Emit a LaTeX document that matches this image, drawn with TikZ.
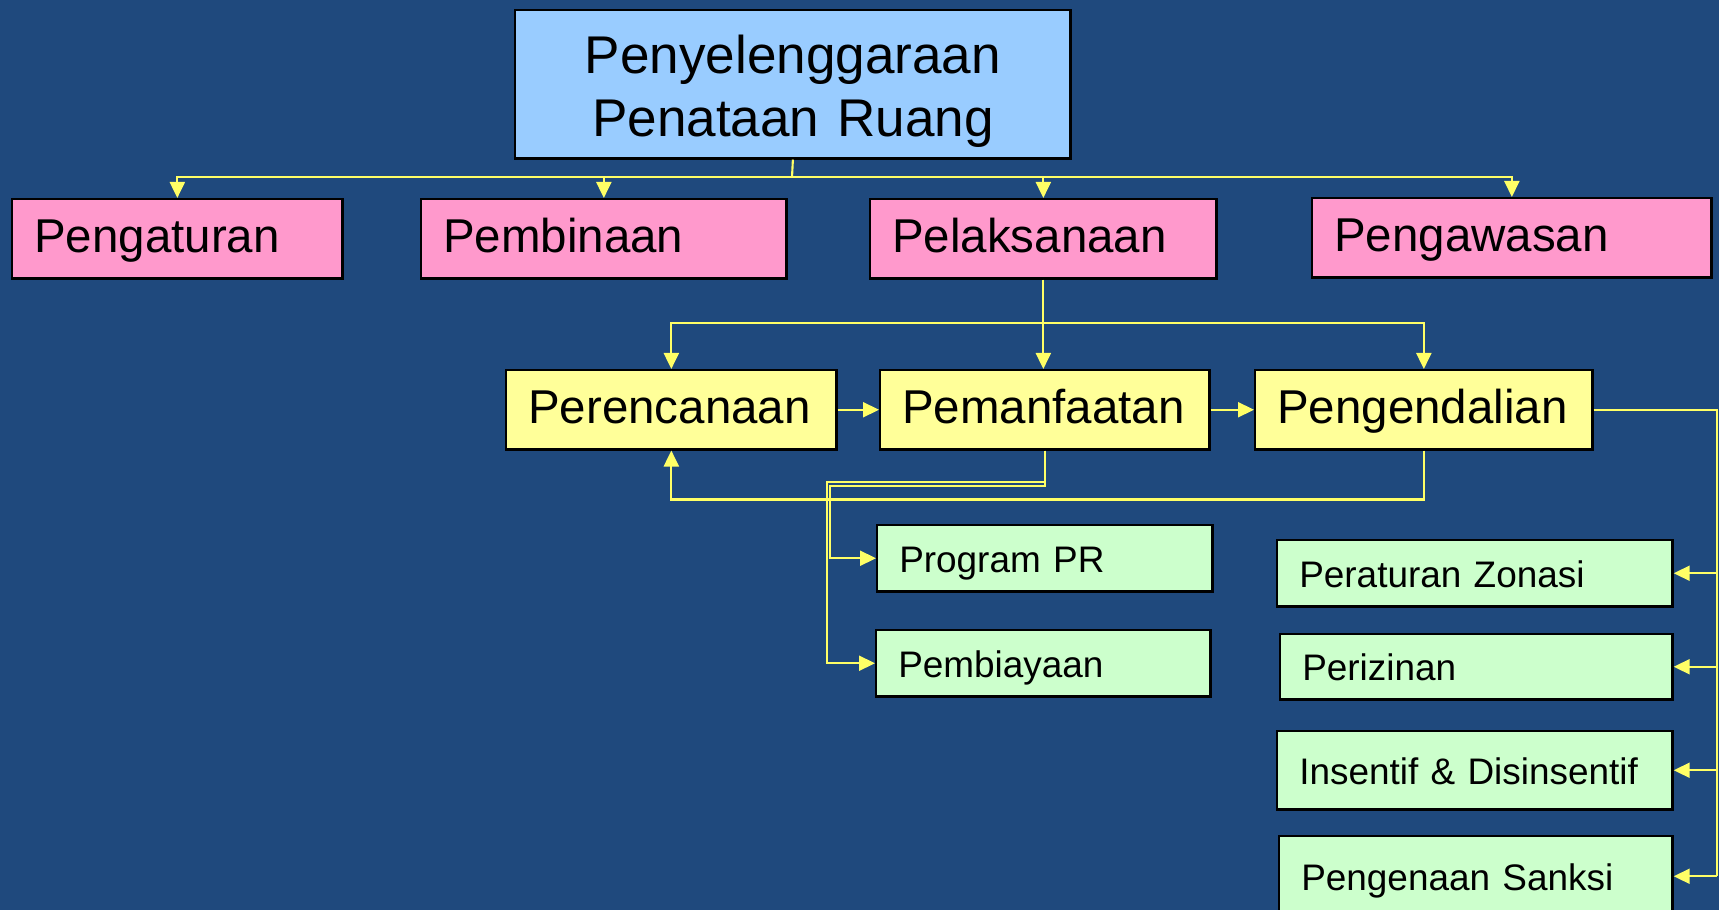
\documentclass[tikz,border=0pt]{standalone}
\usepackage{fontspec}
\setmainfont{Liberation Sans}
\usepackage{tikz}
\usetikzlibrary{arrows.meta, positioning, calc}
\definecolor{bg_blue}{RGB}{31,73,125}
\definecolor{title_fill}{RGB}{153,204,255}
\definecolor{pink_fill}{RGB}{255,153,204}
\definecolor{yellow_fill}{RGB}{255,255,153}
\definecolor{green_fill}{RGB}{204,255,204}
\definecolor{link_yellow}{RGB}{255,255,102}
\tikzset{
    base_box/.style={
        rectangle, draw=black, line width=0.7pt, inner xsep=0.22cm, inner ysep=0pt,
        anchor=north west, align=left, text=black
    },
    title_box/.style={
        base_box, fill=title_fill, align=center, text height=0.40cm, text depth=0.62cm,
        font=\fontsize{15.1}{17.9}\selectfont
    },
    pink_box/.style={
        base_box, fill=pink_fill, minimum height=0.79cm, text height=0.8em, text depth=0pt,
        font=\fontsize{13.5}{16}\selectfont
    },
    yellow_box/.style={
        base_box, fill=yellow_fill, minimum height=0.79cm, text height=0.78em, text depth=0pt,
        font=\fontsize{13.5}{16}\selectfont
    },
    green_box/.style={
        base_box, fill=green_fill, minimum height=0.66cm, text height=0.8em, text depth=0pt,
        font=\fontsize{10.5}{12.6}\selectfont
    },
    line_yellow/.style={
        line width=0.6pt, draw=link_yellow
    },
    arrow_yellow/.style={
        line width=0.6pt, draw=link_yellow, -{Triangle[length=1.6mm, width=1.5mm, fill=link_yellow]}
    }
}
\begin{document}
\begin{tikzpicture}[x=0.01cm, y=-0.01cm]
    % Latar
    \path[use as bounding box, fill=bg_blue] (0,0) rectangle (1719,910);
    \clip (0,0) rectangle (1719,910);

    % Judul
    \node[title_box, text width=5.11cm, minimum height=1.48cm] (judul) at (514,9) {Penyelenggaraan\\Penataan Ruang};

    % Tingkat kedua
    \node[pink_box, text width=2.86cm] (pengaturan) at (11,198) {Pengaturan};
    \node[pink_box, text width=3.21cm] (pembinaan) at (420,198) {Pembinaan};
    \node[pink_box, text width=3.02cm] (pelaksanaan) at (869,198) {Pelaksanaan};
    \node[pink_box, text width=3.55cm] (pengawasan) at (1311,197) {Pengawasan};

    \coordinate (split_top) at (792,177);
    \draw[line_yellow] (judul.south) -- (split_top);
    \foreach \b in {pengaturan, pembinaan, pelaksanaan, pengawasan}
        \draw[arrow_yellow] (split_top) -| (\b.north);

    % Tingkat ketiga
    \node[yellow_box, text width=2.86cm] (perencanaan) at (505,369) {Perencanaan};
    \node[yellow_box, text width=2.85cm] (pemanfaatan) at (879,369) {Pemanfaatan};
    \node[yellow_box, text width=2.93cm] (pengendalian) at (1254,369) {Pengendalian};

    \coordinate (split_mid) at (1042,323);
    \draw[arrow_yellow] (pelaksanaan.south) -- (pelaksanaan.south |- pemanfaatan.north);
    \draw[arrow_yellow] (split_mid) -| (perencanaan.north);
    \draw[arrow_yellow] (split_mid) -| (pengendalian.north);
    \draw[arrow_yellow] (perencanaan) -- (pemanfaatan);
    \draw[arrow_yellow] (pemanfaatan) -- (pengendalian);
    \draw[arrow_yellow] (pengendalian.south) -- ++(0,49) -| (perencanaan.south);

    % Rincian pemanfaatan
    \node[green_box, text width=2.91cm] (program) at (876,524) {Program PR};
    \node[green_box, text width=2.90cm] (pembiayaan) at (875,629) {Pembiayaan};

    \coordinate (bend_a) at (827,482);
    \coordinate (bend_b) at (830,486);
    \draw[arrow_yellow] (pemanfaatan.south) |- (bend_a) |- (pembiayaan.west);
    \draw[arrow_yellow] (pemanfaatan.south) |- (bend_b) |- (program.west);

    % Rincian pengendalian
    \node[green_box, text width=3.51cm] (zonasi) at (1276,539) {Peraturan Zonasi};
    \node[green_box, text width=3.48cm, minimum height=0.65cm] (perizinan) at (1279,633) {Perizinan};
    \node[green_box, text width=3.51cm, minimum height=0.78cm] (insentif) at (1276,730) {Insentif \& Disinsentif};
    \node[green_box, text width=3.49cm, minimum height=0.80cm] (sanksi) at (1278,835) {Pengenaan Sanksi};

    \coordinate (rail) at (1717,0);
    \draw[line_yellow] (pengendalian.east) -- (pengendalian.east -| rail) -- (rail |- sanksi.east);
    \foreach \b in {zonasi, perizinan, insentif, sanksi}
        \draw[arrow_yellow] (rail |- \b.east) -- (\b.east);
\end{tikzpicture}
\end{document}
